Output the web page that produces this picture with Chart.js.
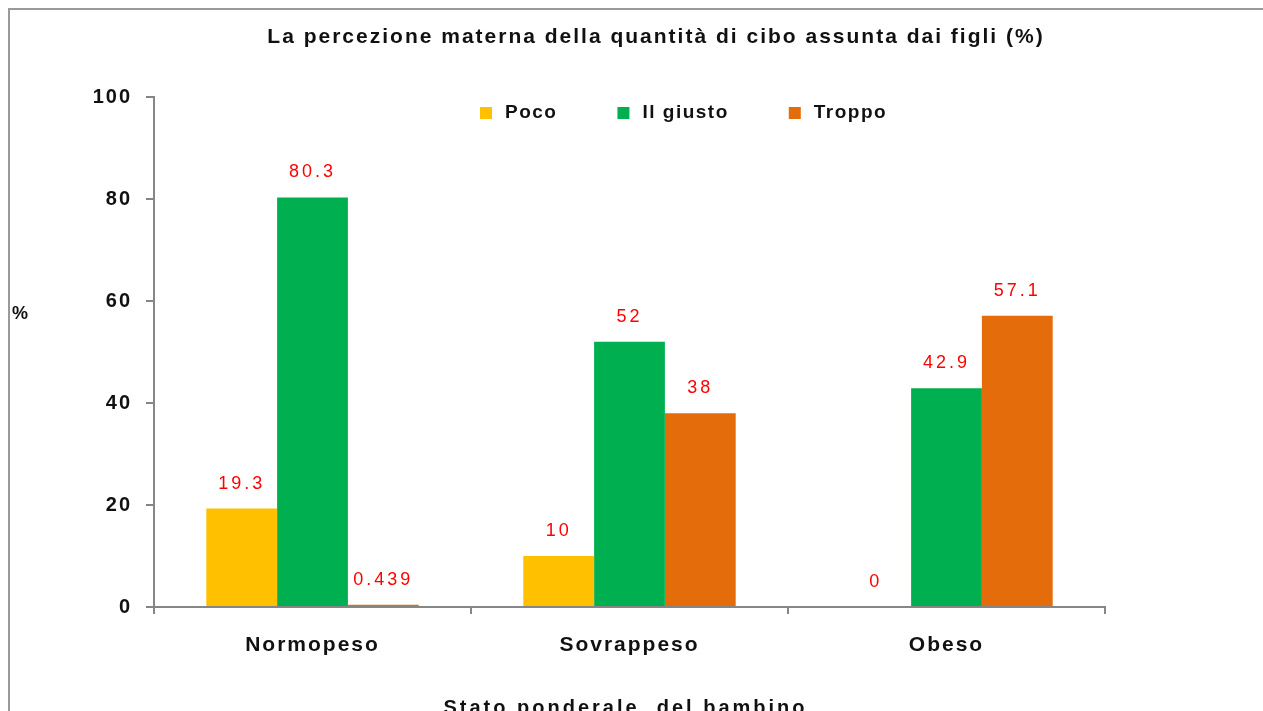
<!DOCTYPE html>
<html>
<head>
<meta charset="utf-8">
<script src="https://cdn.jsdelivr.net/npm/chart.js@4.4.0/dist/chart.umd.min.js"></script>
<style>
  html, body { margin: 0; padding: 0; background: #fff; overflow: hidden; }
  #wrap { position: relative; width: 1263px; height: 711px; }
  #frame { position: absolute; left: 8px; top: 8px; right: 0; bottom: 0;
           border-top: 2px solid #9a9a9a; border-left: 2px solid #9a9a9a; }
  canvas { position: absolute; left: 0; top: 0; }
</style>
</head>
<body>
<div id="wrap">
  <div id="frame"></div>
  <canvas id="chart" width="1263" height="711"></canvas>
</div>
<script>
// Data
const categories = ['Normopeso', 'Sovrappeso', 'Obeso'];
const seriesNames = ['Poco', 'Il giusto', 'Troppo'];
const poco = [19.3, 10, 0];
const giusto = [80.3, 52, 42.9];
const troppo = [0.439, 38, 57.1];
const seriesColors = ['#FFC000', '#00B050', '#E46C0A'];

const titleText = 'La percezione materna della quantità di cibo assunta dai figli (%)';
const xTitleText = 'Stato ponderale  del bambino';
const yTitleText = '%';

const FONT = '"Liberation Sans", Arial, sans-serif';
const AXIS_GREY = '#868686';

/**
 * Draws title, axis captions, legend and value labels (Excel look)
 */
const decorPlugin = {
  id: 'decor',
  beforeDraw(chart) {
    // wide Excel-like spacing for the tick labels
    chart.ctx.letterSpacing = '2px';
  },
  afterDraw(chart) {
    const ctx = chart.ctx;
    const area = chart.chartArea;
    ctx.save();

    // Title
    ctx.letterSpacing = '2px';
    ctx.font = 'bold 21px ' + FONT;
    ctx.fillStyle = '#111';
    ctx.textAlign = 'center';
    ctx.textBaseline = 'middle';
    ctx.fillText(titleText, 656, 37);

    // Y caption (horizontal)
    ctx.font = 'bold 18px ' + FONT;
    ctx.textAlign = 'left';
    ctx.fillText(yTitleText, 12, 314);

    // X caption, cut by the bottom edge like in the reference
    ctx.letterSpacing = '3px';
    ctx.font = 'bold 20px ' + FONT;
    ctx.textAlign = 'center';
    ctx.textBaseline = 'alphabetic';
    ctx.fillText(xTitleText, (area.left + area.right) / 2 - 4, 714);

    // Legend inside the plot area
    ctx.letterSpacing = '1.5px';
    ctx.font = 'bold 19px ' + FONT;
    ctx.textAlign = 'left';
    ctx.textBaseline = 'middle';
    let lx = 480;
    const ly = 113;
    chart.data.datasets.forEach((ds) => {
      ctx.fillStyle = ds.backgroundColor;
      ctx.fillRect(lx, ly - 6, 12, 12);
      ctx.fillStyle = '#111';
      ctx.fillText(ds.label, lx + 25, ly);
      lx += 25 + ctx.measureText(ds.label).width + 60;
    });

    // Value labels above bars
    ctx.letterSpacing = '3px';
    ctx.font = '18px ' + FONT;
    ctx.fillStyle = '#FF0000';
    ctx.textAlign = 'center';
    chart.data.datasets.forEach((ds, i) => {
      const meta = chart.getDatasetMeta(i);
      meta.data.forEach((bar, j) => {
        ctx.fillText(String(ds.data[j]), bar.x, bar.y - 25);
      });
    });

    ctx.restore();
  }
};

const ctx = document.getElementById('chart');

new Chart(ctx, {
  type: 'bar',
  data: {
    labels: categories,
    datasets: [
      { label: seriesNames[0], data: poco, backgroundColor: seriesColors[0] },
      { label: seriesNames[1], data: giusto, backgroundColor: seriesColors[1] },
      { label: seriesNames[2], data: troppo, backgroundColor: seriesColors[2] }
    ]
  },
  options: {
    responsive: false,
    devicePixelRatio: 1,
    animation: false,
    categoryPercentage: 0.67,
    barPercentage: 1.0,
    layout: {
      padding: { left: 0, right: 158, top: 97, bottom: 0 }
    },
    plugins: {
      legend: { display: false },
      title: { display: false },
      tooltip: { enabled: false }
    },
    scales: {
      x: {
        afterFit: (scale) => { scale.height = 104; },
        grid: {
          drawOnChartArea: false,
          drawTicks: true,
          tickLength: 7,
          color: AXIS_GREY,
          lineWidth: 2
        },
        border: { color: AXIS_GREY, width: 2 },
        ticks: {
          autoSkip: false,
          maxRotation: 0,
          padding: 19,
          color: '#111',
          font: { family: FONT, size: 21, weight: 'bold' }
        }
      },
      y: {
        min: 0,
        max: 100,
        afterFit: (scale) => { scale.width = 154; },
        grid: {
          drawOnChartArea: false,
          drawTicks: true,
          tickLength: 8,
          color: AXIS_GREY,
          lineWidth: 2
        },
        border: { color: AXIS_GREY, width: 2 },
        ticks: {
          stepSize: 20,
          padding: 14,
          color: '#111',
          font: { family: FONT, size: 20, weight: 'bold' }
        }
      }
    }
  },
  plugins: [decorPlugin]
});
</script>
</body>
</html>
